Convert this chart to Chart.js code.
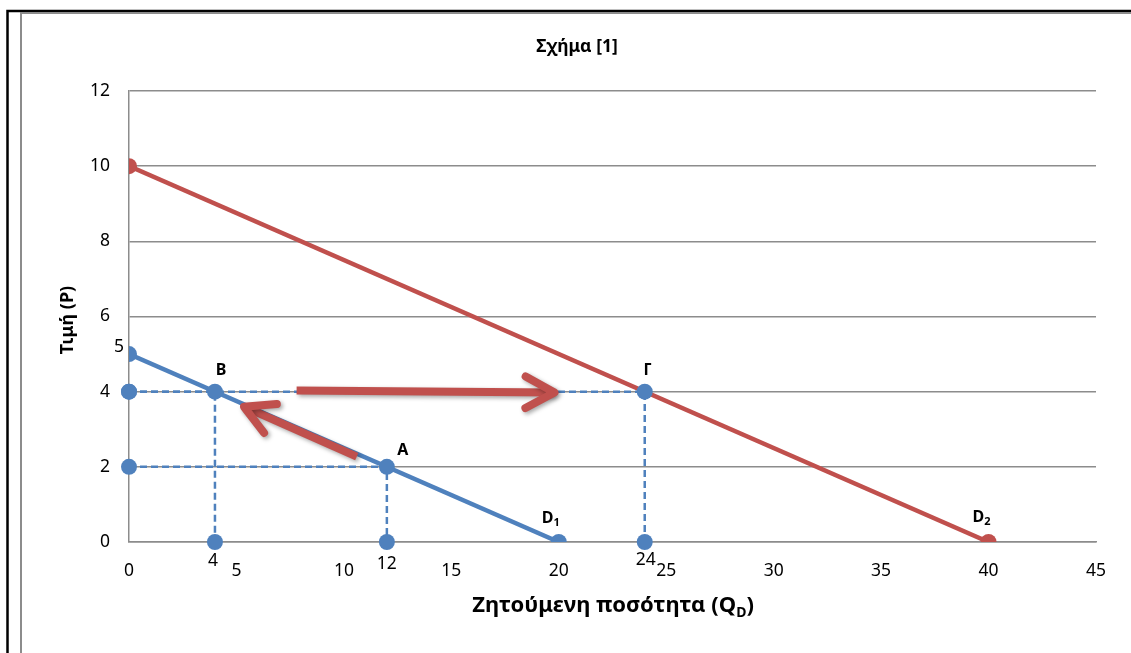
<!DOCTYPE html>
<html>
<head>
<meta charset="utf-8">
<script src="https://cdn.jsdelivr.net/npm/chart.js@4/dist/chart.umd.min.js"></script>
<style>
  html, body { margin: 0; padding: 0; background: #fff; }
  #wrap { width: 1131px; height: 653px; position: relative; }
</style>
</head>
<body>
<div id="wrap"><canvas id="grafico"></canvas></div>
<script>
// Σχήμα [1]: two demand curves D1, D2 with points A, B, Γ and guide lines

const d1Q = [0, 20];
const d1P = [5, 0];
const d2Q = [0, 40];
const d2P = [10, 0];

const pointNames = ["B", "A", "Γ"];
const pointQ = [4, 12, 24];
const pointP = [4, 2, 4];

// arrows A -> B and B -> Γ
const arrowFromQ = [10.6, 7.8];
const arrowFromP = [2.27, 4.03];
const arrowToQ = [5.35, 19.8];
const arrowToP = [3.6, 3.98];

const xTicks = [0, 5, 10, 15, 20, 25, 30, 35, 40, 45];
const yTicks = [0, 2, 4, 6, 8, 10, 12];

const BLUE = "#4F81BD";
const RED = "#C0504D";
const GRID = "#8c8c8c";
const FONT = "'Noto Sans', 'DejaVu Sans', sans-serif";

const pts = (qs, ps) => qs.map((q, i) => ({ x: q, y: ps[i] }));

const datasets = [];
// dashed guides: (0,P) -> (Q,P) -> (Q,0)
pointQ.forEach((q, i) => {
  datasets.push({
    data: [{ x: 0, y: pointP[i] }, { x: q, y: pointP[i] }, { x: q, y: 0 }],
    showLine: true,
    borderColor: BLUE,
    borderWidth: 2.5,
    borderDash: [7, 4],
    pointRadius: 8,
    pointBackgroundColor: BLUE,
    pointBorderWidth: 0,
    clip: false,
  });
});
datasets.push({
  label: "D1",
  data: pts(d1Q, d1P),
  showLine: true,
  borderColor: BLUE,
  borderWidth: 4.5,
  pointRadius: 8,
  pointBackgroundColor: BLUE,
  pointBorderWidth: 0,
});
datasets.push({
  label: "D2",
  data: pts(d2Q, d2P),
  showLine: true,
  borderColor: RED,
  borderWidth: 4.5,
  pointRadius: 8,
  pointBackgroundColor: RED,
  pointBorderWidth: 0,
});

function subText(ctx, main, sub, cx, cy, size, subSize) {
  ctx.font = `bold ${size}px ${FONT}`;
  const w1 = ctx.measureText(main).width;
  ctx.font = `bold ${subSize}px ${FONT}`;
  const w2 = ctx.measureText(sub).width;
  let x = cx - (w1 + w2) / 2;
  ctx.textAlign = "left";
  ctx.textBaseline = "middle";
  ctx.font = `bold ${size}px ${FONT}`;
  ctx.fillText(main, x, cy);
  ctx.font = `bold ${subSize}px ${FONT}`;
  ctx.fillText(sub, x + w1, cy + size * 0.3);
}

const framePlugin = {
  id: "frame",
  beforeDraw(chart) {
    const ctx = chart.ctx;
    ctx.save();
    ctx.fillStyle = "#fff";
    ctx.fillRect(0, 0, chart.width, chart.height);
    ctx.strokeStyle = "#000";
    ctx.lineWidth = 2.5;
    ctx.beginPath();
    ctx.moveTo(7.5, chart.height);
    ctx.lineTo(7.5, 11);
    ctx.lineTo(chart.width, 11);
    ctx.stroke();
    ctx.strokeStyle = GRID;
    ctx.lineWidth = 2;
    ctx.beginPath();
    ctx.moveTo(21, chart.height);
    ctx.lineTo(21, 13);
    ctx.lineTo(chart.width, 13);
    ctx.stroke();
    ctx.restore();
  },
};

const labelsPlugin = {
  id: "labels",
  afterDatasetsDraw(chart) {
    const { ctx, scales: { x, y } } = chart;
    ctx.save();

    // arrows
    ctx.strokeStyle = RED;
    ctx.lineWidth = 8;
    ctx.shadowColor = "rgba(0,0,0,0.35)";
    ctx.shadowBlur = 4;
    ctx.shadowOffsetX = 2;
    ctx.shadowOffsetY = 2;
    arrowFromQ.forEach((q, i) => {
      const x0 = x.getPixelForValue(q), y0 = y.getPixelForValue(arrowFromP[i]);
      const x1 = x.getPixelForValue(arrowToQ[i]), y1 = y.getPixelForValue(arrowToP[i]);
      const a = Math.atan2(y1 - y0, x1 - x0);
      const len = 33, spread = 0.5;
      ctx.lineCap = "butt";
      ctx.lineJoin = "round";
      ctx.beginPath();
      ctx.moveTo(x0, y0);
      ctx.lineTo(x1, y1);
      ctx.stroke();
      ctx.lineCap = "round";
      ctx.beginPath();
      ctx.moveTo(x1 - len * Math.cos(a - spread), y1 - len * Math.sin(a - spread));
      ctx.lineTo(x1, y1);
      ctx.lineTo(x1 - len * Math.cos(a + spread), y1 - len * Math.sin(a + spread));
      ctx.stroke();
    });
    ctx.shadowColor = "transparent";

    ctx.fillStyle = "#000";
    ctx.textAlign = "center";
    ctx.textBaseline = "middle";

    // point names
    const nameOffsets = [[6, -21], [16, -16], [3, -21]];
    ctx.font = `bold 16px ${FONT}`;
    pointNames.forEach((n, i) => {
      ctx.fillText(n, x.getPixelForValue(pointQ[i]) + nameOffsets[i][0],
        y.getPixelForValue(pointP[i]) + nameOffsets[i][1]);
    });

    // quantity labels under the axis points
    ctx.font = `17.5px ${FONT}`;
    const qOffsets = [[-2, 19], [0, 22], [1, 18]];
    pointQ.forEach((q, i) => {
      ctx.fillText(String(q), x.getPixelForValue(q) + qOffsets[i][0], y.getPixelForValue(0) + qOffsets[i][1]);
    });
    // intercept label of D1
    ctx.fillText(String(d1P[0]), x.getPixelForValue(0) - 10, y.getPixelForValue(d1P[0]) - 7);

    // curve names
    subText(ctx, "D", "1", x.getPixelForValue(d1Q[1]) - 8, y.getPixelForValue(0) - 24, 16, 11);
    subText(ctx, "D", "2", x.getPixelForValue(d2Q[1]) - 7, y.getPixelForValue(0) - 25, 16, 11);

    // titles
    ctx.textAlign = "center";
    ctx.font = `bold 17.5px ${FONT}`;
    ctx.fillText("Σχήμα [1]", 577, 47);
    const area = chart.chartArea;
    ctx.save();
    ctx.translate(68, 320);
    ctx.rotate(-Math.PI / 2);
    ctx.font = `bold 18px ${FONT}`;
    ctx.fillText("Τιμή (P)", 0, 0);
    ctx.restore();
    // x axis title with subscript
    const cx = 613, cy = 606;
    ctx.font = `bold 22px ${FONT}`;
    const t1 = "Ζητούμενη ποσότητα (Q", t3 = ")";
    const w1 = ctx.measureText(t1).width, w3 = ctx.measureText(t3).width;
    ctx.font = `bold 14px ${FONT}`;
    const w2 = ctx.measureText("D").width;
    let sx = cx - (w1 + w2 + w3) / 2;
    ctx.textAlign = "left";
    ctx.font = `bold 22px ${FONT}`;
    ctx.fillText(t1, sx, cy);
    ctx.font = `bold 14px ${FONT}`;
    ctx.fillText("D", sx + w1, cy + 7);
    ctx.font = `bold 22px ${FONT}`;
    ctx.fillText(t3, sx + w1 + w2, cy);

    ctx.restore();
  },
};

new Chart(document.getElementById("grafico"), {
  type: "scatter",
  data: { datasets },
  options: {
    responsive: true,
    maintainAspectRatio: false,
    animation: false,
    events: [],
    layout: { padding: { left: 0, top: 91, right: 35, bottom: 0 } },
    plugins: { legend: { display: false }, tooltip: { enabled: false } },
    scales: {
      x: {
        type: "linear",
        min: 0,
        max: 45,
        afterBuildTicks: (s) => { s.ticks = xTicks.map((v) => ({ value: v })); },
        afterFit: (s) => { s.height = 111; },
        grid: { display: false, drawTicks: false },
        border: { display: true, color: GRID, width: 1.5 },
        ticks: { padding: 19, color: "#000", font: { family: FONT, size: 17.5 } },
      },
      y: {
        type: "linear",
        min: 0,
        max: 12,
        afterBuildTicks: (s) => { s.ticks = yTicks.map((v) => ({ value: v })); },
        afterFit: (s) => { s.width = 129; },
        grid: { color: GRID, lineWidth: 1.5, drawTicks: false },
        border: { display: true, color: GRID, width: 1.5 },
        ticks: { padding: 19, color: "#000", font: { family: FONT, size: 17.5 } },
      },
    },
  },
  plugins: [framePlugin, labelsPlugin],
});
</script>
</body>
</html>
